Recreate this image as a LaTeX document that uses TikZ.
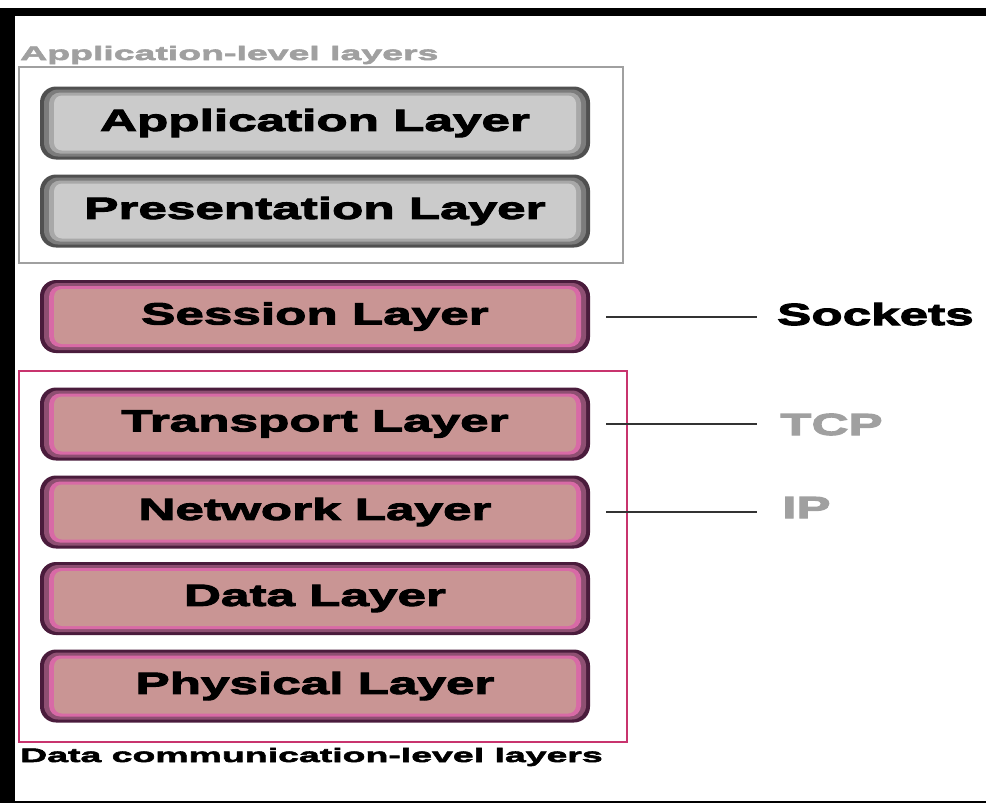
\documentclass[tikz,border=0pt]{standalone}
\usepackage{fontspec}
\setmainfont{Liberation Sans}
\newfontfamily\layerfont{Liberation Sans Bold}[FakeStretch=1.68, FakeBold=3.5]
\newfontfamily\groupfont{Liberation Sans Bold}[FakeStretch=1.92, FakeBold=3]

\definecolor{plumdark}{HTML}{4A1C3C}
\definecolor{plummid}{HTML}{8E4F72}
\definecolor{pinkring}{HTML}{D86AA6}
\definecolor{pinkfill}{HTML}{C99594}
\definecolor{greydark}{HTML}{505050}
\definecolor{greymid}{HTML}{7C7C7C}
\definecolor{greyring}{HTML}{A8A8A8}
\definecolor{greyfill}{HTML}{CBCBCB}
\definecolor{groupred}{HTML}{C8346E}
\definecolor{grouplabel}{HTML}{A0A0A0}

% one bevel ring inside a layer box: x inset, y inset, colour, corner radius
\newcommand\bevelring[4]{%
  \fill[#3, rounded corners=#4]
    ([shift={(#1pt,-#2pt)}]path picture bounding box.north west) rectangle
    ([shift={(-#1pt,#2pt)}]path picture bounding box.south east);}

\tikzset{
  layerbase/.style={rectangle, rounded corners=16pt, inner sep=0pt,
    minimum width=550pt, minimum height=73pt, text=black,
    font=\layerfont\fontsize{30.5}{36}\selectfont},
  pinklayer/.style={layerbase, fill=plumdark,
    path picture={\bevelring{4}{3}{plummid}{14pt}%
                  \bevelring{9}{6}{pinkring}{11pt}%
                  \bevelring{14}{9}{pinkfill}{8pt}}},
  greylayer/.style={layerbase, fill=greydark,
    path picture={\bevelring{4}{3}{greymid}{14pt}%
                  \bevelring{9}{6}{greyring}{11pt}%
                  \bevelring{14}{9}{greyfill}{8pt}}},
  sidelabel/.style={inner sep=0pt, anchor=base west,
    font=\layerfont\fontsize{30.5}{36}\selectfont},
  grouplbl/.style={inner sep=0pt, anchor=base west,
    font=\groupfont\fontsize{19.5}{24}\selectfont},
  conn/.style={draw=black!80, line width=2pt},
}

\begin{document}
\begin{tikzpicture}[x=1pt, y=-1pt]
  \useasboundingbox (0,0) rectangle (986,803);
  \fill[white] (0,0) rectangle (986,803);

  % frame
  \fill[black] (0,8) rectangle (986,16);
  \fill[black] (0,8) rectangle (15,803);
  \fill[black] (0,801) rectangle (986,803);

  % group frames
  \draw[grouplabel, line width=1.5pt] (19,67) rectangle (623,263);
  \draw[groupred, line width=2pt] (19,371) rectangle (627,742);

  % group captions
  \node[grouplbl, text=grouplabel] (applbl) at (20,60) {Application-level layers};
  \node[grouplbl, text=black] (datalbl) at (20,762) {Data communication-level layers};

  % layer stack
  \node[greylayer] (app)   at (315,123)   {Application Layer};
  \node[greylayer] (pres)  at (315,211)   {Presentation Layer};
  \node[pinklayer] (sess)  at (315,316.5) {Session Layer};
  \node[pinklayer] (trans) at (315,424)   {Transport Layer};
  \node[pinklayer] (net)   at (315,512)   {Network Layer};
  \node[pinklayer] (data)  at (315,598.5) {Data Layer};
  \node[pinklayer] (phys)  at (315,686)   {Physical Layer};

  % protocol labels
  \node[sidelabel, text=black] (sockets) at (777,325) {Sockets};
  \node[sidelabel, text=grouplabel] (tcp) at (780,435) {TCP};
  \node[sidelabel, text=grouplabel] (ip)  at (782,518) {IP};

  % connectors
  \draw[conn, shorten <=16pt, shorten >=20pt] (sess.east)  -- (sess.east -| sockets.west);
  \draw[conn, shorten <=16pt, shorten >=23pt] (trans.east) -- (trans.east -| tcp.west);
  \draw[conn, shorten <=16pt, shorten >=25pt] (net.east)   -- (net.east -| ip.west);
\end{tikzpicture}
\end{document}
